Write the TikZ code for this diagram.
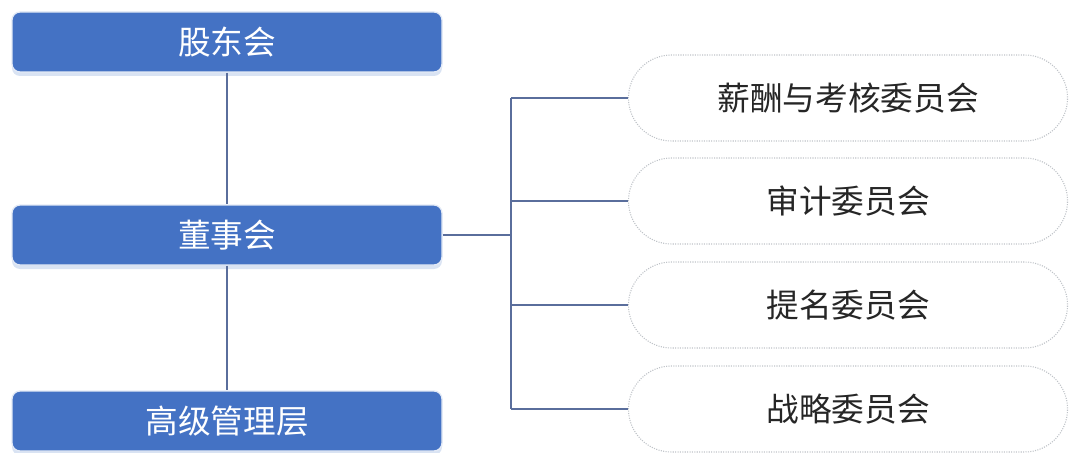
\documentclass[tikz,border=0pt]{standalone}
\usepackage{fontspec}
\newfontfamily\cjk{Noto Sans CJK SC}
\usetikzlibrary{shadows,shapes.misc}
\definecolor{boxblue}{HTML}{4472C4}
\definecolor{linecol}{HTML}{5A6E9C}
\definecolor{pillgray}{HTML}{BFC3C8}
\tikzset{
  bluebox/.style={draw=white!85!boxblue, line width=1pt, fill=boxblue, rounded corners=6pt,
    minimum width=430*0.75pt, minimum height=60*0.75pt, text=white, font=\cjk\fontsize{24.5}{27}\selectfont,
    drop shadow={shadow xshift=0pt, shadow yshift=-3pt, fill=boxblue!40, opacity=0.5}},
  pill/.style={draw=pillgray, densely dotted, line width=0.8pt, fill=white, rounded rectangle,
    minimum width=448*0.75pt, minimum height=86*0.75pt, text=black!85, font=\cjk\fontsize{24.5}{27}\selectfont},
  conn/.style={draw=linecol, line width=0.8pt}
}
\begin{document}
\begin{tikzpicture}[x=0.75pt,y=-0.75pt]
\useasboundingbox (0,0) rectangle (1072,453);
\node[bluebox] (gd) at (227,42) {股东会};
\node[bluebox] (dsh) at (227,235) {董事会};
\node[bluebox] (gg) at (227,421) {高级管理层};
\node[pill] (p1) at (848,98) {薪酬与考核委员会};
\node[pill] (p2) at (848,201) {审计委员会};
\node[pill] (p3) at (848,305) {提名委员会};
\node[pill] (p4) at (848,409) {战略委员会};
\coordinate (tj) at (511,235);
\coordinate (top) at (511,98);
\coordinate (bot) at (511,409);
\draw[conn] (gd.south) -- (dsh.north);
\draw[conn] (dsh.south) -- (gg.north);
\draw[conn] (dsh.east) -- (tj);
\draw[conn] (top) -- (bot);
\draw[conn] (top) -- (p1.west);
\draw[conn] (p2.west -| top) -- (p2.west);
\draw[conn] (p3.west -| top) -- (p3.west);
\draw[conn] (bot) -- (p4.west);
\end{tikzpicture}
\end{document}
